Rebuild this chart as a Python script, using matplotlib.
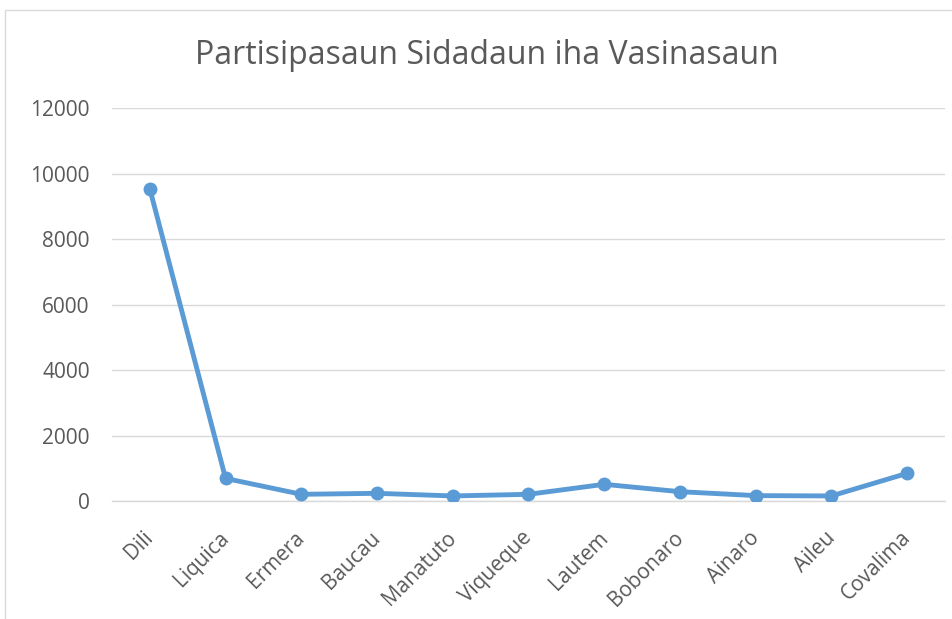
import matplotlib
matplotlib.use('Agg')
from matplotlib import pyplot as plt
from matplotlib.patches import Rectangle

districts = ['Dili', 'Liquica', 'Ermera', 'Baucau', 'Manatuto', 'Viqueque',
             'Lautem', 'Bobonaro', 'Ainaro', 'Aileu', 'Covalima']
participants = [9530, 690, 205, 235, 155, 205, 510, 285, 165, 155, 845]
y_ticks = [0, 2000, 4000, 6000, 8000, 10000, 12000]

text_col = '#595959'
line_col = '#5b9bd5'
grid_col = '#d9d9d9'

plt.rcParams['font.family'] = ['Open Sans', 'DejaVu Sans']

fig = plt.figure(figsize=(9.53, 6.19), dpi=100)
ax = fig.add_axes([0.1175, 0.1906, 0.8741, 0.6349])

# chart frame like the office export
fig.patches.append(Rectangle((5 / 953, -0.1), 1.2, 1 - 10 / 619 + 0.1,
                             transform=fig.transFigure, fill=False,
                             edgecolor=grid_col, linewidth=1.0))

x = list(range(len(districts)))
ax.plot(x, participants, color=line_col, linewidth=3.5, marker='o',
        markersize=9, solid_capstyle='round', zorder=3)

ax.set_xlim(-0.5, len(districts) - 0.5)
ax.set_ylim(0, 12000)
ax.set_yticks(y_ticks)
ax.set_yticklabels([str(v) for v in y_ticks])
ax.set_xticks(x)
ax.set_xticklabels([])

# rotated category labels, placed by hand so they hug the ticks
for i, name in zip(x, districts):
    ax.annotate(name, (i, 0), xycoords=('data', 'axes fraction'),
                xytext=(-5, -19), textcoords='offset points',
                rotation=45, ha='right', va='top', rotation_mode='anchor',
                fontsize=15, color=text_col)

ax.grid(axis='y', color=grid_col, linewidth=1.0)
ax.set_axisbelow(True)
for s in ['top', 'right', 'left']:
    ax.spines[s].set_visible(False)
ax.spines['bottom'].set_color(grid_col)
ax.spines['bottom'].set_linewidth(1.0)
ax.tick_params(axis='both', length=0, colors=text_col, labelsize=15)
ax.tick_params(axis='y', pad=16)

fig.text(0.511, 0.911, 'Partisipasaun Sidadaun iha Vasinasaun', ha='center',
         va='center', fontsize=23, color=text_col)

fig.savefig('out.png', dpi=100)
